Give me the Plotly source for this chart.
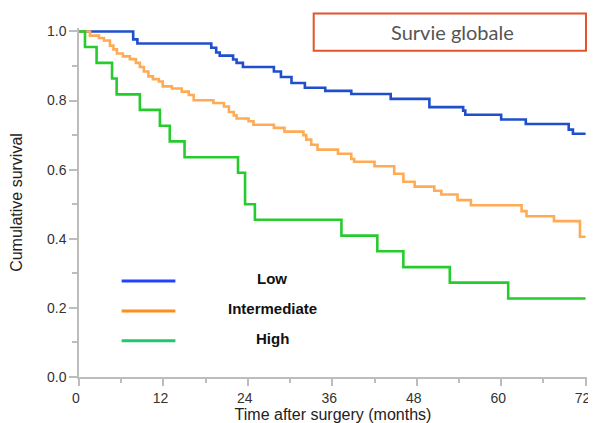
import plotly.graph_objects as go

# Kaplan-Meier step data (months, cumulative survival)
low_t = [0, 7.7, 8.3, 18.8, 19.5, 20.0, 21.9, 22.4, 23.3, 27.7, 28.7, 30.2, 32.1, 35.0, 38.7, 44.3, 49.8, 54.6, 54.9, 60.0, 63.5, 69.6, 70.2, 72]
low_s = [1.0, 0.977, 0.965, 0.953, 0.939, 0.930, 0.919, 0.909, 0.897, 0.884, 0.868, 0.851, 0.837, 0.828, 0.819, 0.805, 0.781, 0.771, 0.759, 0.745, 0.732, 0.716, 0.704, 0.704]

int_t = [0, 1.56, 2.84, 3.55, 4.40, 4.89, 5.39, 6.24, 7.23, 8.09, 8.65, 9.22, 9.86, 10.5, 11.35, 11.9, 13.2, 14.6, 15.6, 16.3,
         19.1, 20.6, 21.3, 22.0, 22.4, 24.1, 24.8, 27.7, 29.2, 31.9, 32.3, 33.0, 33.9, 36.8, 38.7, 39.1, 42.0, 44.8, 46.1,
         47.7, 50.5, 51.5, 53.8, 55.7, 62.9, 63.6, 67.5, 71.2, 72]
int_s = [1.0, 0.988, 0.981, 0.974, 0.959, 0.948, 0.936, 0.928, 0.920, 0.909, 0.897, 0.884, 0.870, 0.862, 0.855, 0.841, 0.835, 0.826, 0.816, 0.801,
         0.793, 0.783, 0.767, 0.757, 0.748, 0.740, 0.730, 0.721, 0.710, 0.700, 0.687, 0.672, 0.658, 0.646, 0.631, 0.623, 0.610, 0.588, 0.565,
         0.551, 0.539, 0.528, 0.512, 0.497, 0.480, 0.465, 0.451, 0.406, 0.406]

high_t = [0, 0.85, 2.5, 4.7, 5.35, 8.65, 11.5, 12.9, 15.0, 22.6, 23.6, 25.0, 37.3, 42.4, 46.1, 52.7, 61.0, 72]
high_s = [1.0, 0.955, 0.909, 0.864, 0.818, 0.773, 0.727, 0.682, 0.636, 0.591, 0.500, 0.455, 0.409, 0.364, 0.318, 0.273, 0.227, 0.227]

x_ticks = [0, 12, 24, 36, 48, 60, 72]
y_ticks = [0.0, 0.2, 0.4, 0.6, 0.8, 1.0]
y_tick_labels = ["0.0", "0.2", "0.4", "0.6", "0.8", "1.0"]

legend_names = ["Low", "Intermediate", "High"]
legend_y = [0.278, 0.191, 0.105]

curve_colors = ["#1f4fcc", "#ffab55", "#26cc2e"]
legend_colors = ["#2242ff", "#ff8c1c", "#1fc86c"]

fig = go.Figure()
for t, s, c, n in [(low_t, low_s, curve_colors[0], "Low"),
                   (int_t, int_s, curve_colors[1], "Intermediate"),
                   (high_t, high_s, curve_colors[2], "High")]:
    fig.add_trace(go.Scatter(x=t, y=s, mode="lines", line=dict(color=c, width=2.6, shape="hv"),
                             name=n, showlegend=False, hoverinfo="skip"))

# custom legend
for name, yy, col in zip(legend_names, legend_y, legend_colors):
    fig.add_shape(type="line", xref="x", yref="y", x0=6.06, x1=13.7, y0=yy, y1=yy,
                  line=dict(color=col, width=3))
    fig.add_annotation(x=27.5, y=yy + 0.006, xref="x", yref="y", text="<b>%s</b>" % name,
                       xanchor="center", yanchor="middle",
                       showarrow=False, font=dict(family="Liberation Sans, Arial", size=15, color="#111"))

# title box
fig.add_shape(type="rect", xref="paper", yref="paper", x0=0.462, x1=0.998, y0=0.935, y1=1.0416,
              line=dict(color="#e2552b", width=2), fillcolor="white", layer="below")
fig.add_annotation(xref="paper", yref="paper", x=0.735, y=0.988, text="Survie globale", showarrow=False,
                   xanchor="center", yanchor="middle",
                   font=dict(family="Lato", size=20, color="#555"))

axis_common = dict(showline=True, linecolor="#bdbdbd", linewidth=1.5, ticks="outside", tickcolor="#bdbdbd",
                   tickwidth=1.5, showgrid=False, zeroline=False, automargin=False,
                   tickfont=dict(family="Liberation Sans, Arial", size=14, color="#333"))

fig.update_layout(
    width=588, height=415,
    margin=dict(l=71, r=9, t=20, b=46, autoexpand=False),
    paper_bgcolor="white", plot_bgcolor="white",
    xaxis=dict(range=[0, 72.2], tickvals=x_ticks, ticklen=7, ticklabelshift=-3,
               minor=dict(dtick=6, tick0=0, ticks="outside", ticklen=4, tickcolor="#bdbdbd", tickwidth=1.5),
               title=dict(text="Time after surgery (months)", font=dict(family="Liberation Sans, Arial", size=16, color="#222"), standoff=2),
               **axis_common),
    yaxis=dict(range=[0, 1.01], tickvals=y_ticks, ticktext=y_tick_labels, ticklen=8,
               minor=dict(dtick=0.1, tick0=0, ticks="outside", ticklen=5, tickcolor="#bdbdbd", tickwidth=1.5),
               title=dict(text="Cumulative survival", font=dict(family="Liberation Sans, Arial", size=16, color="#222"), standoff=20),
               **axis_common),
)

fig.write_html("out.html")
